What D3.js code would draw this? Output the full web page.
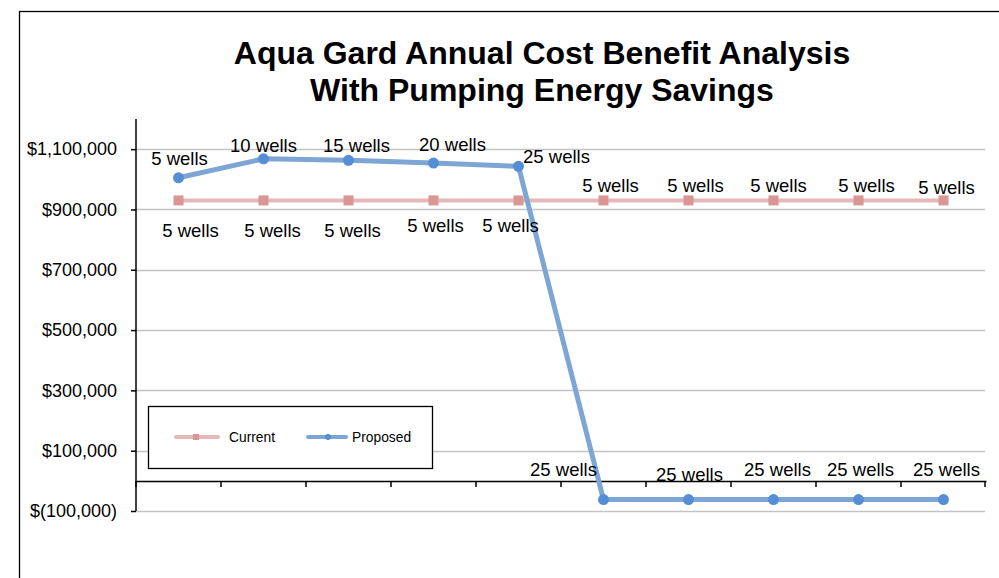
<!DOCTYPE html>
<html>
<head>
<meta charset="utf-8">
<script src="https://cdn.jsdelivr.net/npm/d3@7"></script>
<style>
  body { margin:0; background:#fff; }
  svg { display:block; font-family:"Liberation Sans", Arial, sans-serif; }
</style>
</head>
<body>
<svg id="chart"></svg>
<script>
// data
var periods = ['1','2','3','4','5','6','7','8','9','10'];
var currentValues = [930000,930000,930000,930000,930000,930000,930000,930000,930000,930000];
var currentLabels = ['5 wells','5 wells','5 wells','5 wells','5 wells','5 wells','5 wells','5 wells','5 wells','5 wells'];
var proposedValues = [1005000,1068000,1063000,1054000,1043000,-62000,-62000,-62000,-62000,-62000];
var proposedLabels = ['5 wells','10 wells','15 wells','20 wells','25 wells','25 wells','25 wells','25 wells','25 wells','25 wells'];
var yTicks = [-100000,100000,300000,500000,700000,900000,1100000];
var titleLines = ['Aqua Gard Annual Cost Benefit Analysis','With Pumping Energy Savings'];

/*********layout************/
var width = 999, height = 578;
var plot = {left:136, right:986, top:119, bottom:511};
var svg = d3.select('#chart').attr('width',width).attr('height',height);

// label nudges (where the labels sit around each point)
var curOff = [[12,30],[9,30],[4,30],[2,25],[-8,25],[7,-15],[7,-15],[5,-15],[8,-15],[3,-13]];
var propOff = [[1,-19],[0,-13],[8,-15],[19,-18],[38,-10],[-40,-30],[1,-25],[4,-30],[2,-30],[3,-30]];

var x = d3.scaleBand().domain(periods).range([plot.left,plot.right]);
var y = d3.scaleLinear().domain([-100000,1200000]).range([plot.bottom,plot.top]);
var cx = function(i){ return x(periods[i]) + x.bandwidth()/2; };

// chart frame
svg.append('rect')
  .attr('x',19.5).attr('y',11.5)
  .attr('width',1200).attr('height',800)
  .style('fill','none').style('stroke','#000').style('stroke-width',1.3);

// title
svg.append('g').selectAll('text').data(titleLines).enter().append('text')
  .attr('x',542).attr('y',function(d,i){ return 64 + i*37; })
  .attr('text-anchor','middle')
  .style('font-size','32px').style('font-weight','bold').style('fill','#000')
  .text(function(d){ return d; });

// gridlines
svg.append('g').selectAll('line').data(yTicks).enter().append('line')
  .attr('x1',plot.left).attr('x2',985)
  .attr('y1',function(d){ return Math.round(y(d))+0.5; })
  .attr('y2',function(d){ return Math.round(y(d))+0.5; })
  .style('stroke','#c4c4c4').style('stroke-width',1.5);

// y axis
var axisY = d3.axisLeft(y).tickValues(yTicks).tickSize(5).tickPadding(14)
  .tickFormat(function(d){
    var s = d3.format(',')(Math.abs(d));
    return d < 0 ? '$(' + s + ')' : '$' + s;
  });
var axisYG = svg.append('g').attr('transform','translate('+plot.left+',0)').call(axisY);
axisYG.select('.domain').attr('d','M0,'+plot.top+'V'+plot.bottom).style('stroke','#000').style('stroke-width',1.5);
axisYG.selectAll('.tick line').style('stroke','#000').style('stroke-width',1.5);
axisYG.selectAll('.tick text').style('font-size','18px').style('fill','#000')
  .style('font-family','"Liberation Sans", Arial, sans-serif');

// x axis at zero, ticks between categories, no labels
var axisX = d3.axisBottom(x).tickSize(0).tickFormat('');
var axisXG = svg.append('g').attr('transform','translate(0,'+Math.round(y(0))+')').call(axisX);
axisXG.select('.domain').style('stroke','#000').style('stroke-width',1.5);
var bounds = periods.map(function(p){ return x(p); }).concat([plot.right-1]);
axisXG.append('g').selectAll('line').data(bounds).enter().append('line')
  .attr('x1',function(d){ return d; }).attr('x2',function(d){ return d; })
  .attr('y1',0).attr('y2',6)
  .style('stroke','#000').style('stroke-width',1.5);

var line = d3.line().x(function(d,i){ return cx(i); }).y(function(d){ return y(d); });

// current series
svg.append('path').datum(currentValues).attr('d',line)
  .style('fill','none').style('stroke','#e6b9b8').style('stroke-width',4);
svg.append('g').selectAll('rect').data(currentValues).enter().append('rect')
  .attr('x',function(d,i){ return cx(i)-5; }).attr('y',function(d){ return y(d)-5; })
  .attr('width',10).attr('height',10).style('fill','#d99694');

// proposed series
svg.append('path').datum(proposedValues).attr('d',line)
  .style('fill','none').style('stroke','#7ea6d4').style('stroke-width',5)
  .style('stroke-linejoin','round');
svg.append('g').selectAll('circle').data(proposedValues).enter().append('circle')
  .attr('cx',function(d,i){ return cx(i); }).attr('cy',function(d){ return y(d); })
  .attr('r',5.5).style('fill','#558ed5');

// data labels
function labels(values, texts, off){
  svg.append('g').selectAll('text').data(values).enter().append('text')
    .attr('x',function(d,i){ return cx(i)+off[i][0]; })
    .attr('y',function(d,i){ return y(d)+off[i][1]; })
    .attr('dy','0.35em').attr('text-anchor','middle')
    .style('font-size','18.5px').style('fill','#000')
    .text(function(d,i){ return texts[i]; });
}
labels(currentValues, currentLabels, curOff);
labels(proposedValues, proposedLabels, propOff);

// legend
var legend = svg.append('g');
legend.append('rect').attr('x',148.5).attr('y',406.5).attr('width',284).attr('height',62)
  .style('fill','#fff').style('stroke','#000').style('stroke-width',1.3);
legend.append('line').attr('x1',176).attr('x2',218).attr('y1',437).attr('y2',437)
  .style('stroke','#e6b9b8').style('stroke-width',4).style('stroke-linecap','round');
legend.append('rect').attr('x',193).attr('y',434).attr('width',6).attr('height',6).style('fill','#d99694');
legend.append('text').attr('x',229).attr('y',437).attr('dy','0.35em')
  .style('font-size','13.8px').text('Current');
legend.append('line').attr('x1',308).attr('x2',346).attr('y1',437).attr('y2',437)
  .style('stroke','#7ea6d4').style('stroke-width',4).style('stroke-linecap','round');
legend.append('circle').attr('cx',328).attr('cy',437).attr('r',3).style('fill','#558ed5');
legend.append('text').attr('x',352).attr('y',437).attr('dy','0.35em')
  .style('font-size','13.8px').text('Proposed');
</script>
</body>
</html>
